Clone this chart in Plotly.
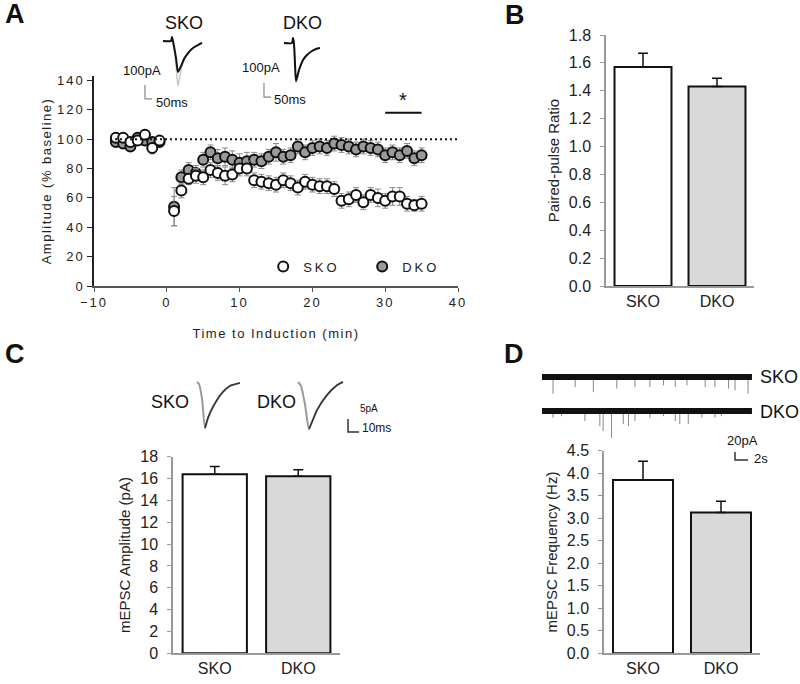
import plotly.graph_objects as go

W, H = 800, 684
FONT = "Arial, Liberation Sans, sans-serif"

# ---------------- Panel A data (LTD time course) ----------------
time_min = [-7, -6, -5, -4, -3, -2, -1,
            1, 2, 3, 4, 5, 6, 7, 8, 9, 10, 11, 12, 13, 14, 15, 16, 17, 18,
            19, 20, 21, 22, 23, 24, 25, 26, 27, 28, 29, 30, 31, 32, 33, 34, 35]
sko_amp = [101, 101, 98, 99, 103, 94, 99,
           51, 65, 73, 75, 74, 79, 77, 75, 76, 80, 80, 72, 71, 70, 69, 72, 70, 67,
           71, 69, 68, 68, 66, 58, 59, 62, 57, 62, 60, 58, 61, 61, 56, 55, 56]
sko_err = [3, 3, 3, 3, 3, 4, 3,
           10, 5, 4, 5, 5, 5, 5, 6, 5, 5, 5, 5, 5, 5, 5, 5, 5, 5,
           5, 5, 5, 5, 5, 5, 5, 5, 5, 5, 6, 5, 6, 6, 5, 4, 5]
dko_amp = [98, 97, 95, 101, 99, 98, 98,
           54, 74, 79, 77, 86, 91, 87, 88, 86, 84, 85, 86, 85, 88, 91, 88, 89, 95,
           91, 94, 95, 94, 97, 96, 95, 93, 95, 94, 93, 89, 91, 89, 92, 87, 89]
dko_err = [3, 3, 3, 3, 3, 3, 3,
           13, 5, 5, 5, 5, 5, 6, 6, 6, 6, 6, 5, 5, 5, 6, 5, 5, 5,
           5, 5, 5, 5, 5, 5, 5, 5, 5, 5, 5, 5, 5, 5, 5, 5, 5]

# ---------------- Bar panels ----------------
groups = ["SKO", "DKO"]
ppr_mean = [1.57, 1.43]
ppr_err = [0.10, 0.06]
mepsc_amp_mean = [16.4, 16.2]
mepsc_amp_err = [0.7, 0.6]
mepsc_freq_mean = [3.85, 3.13]
mepsc_freq_err = [0.42, 0.25]
bar_colors = ["#ffffff", "#d9d9d9"]

# ---------------- Example traces (hand-read) ----------------
# Panel A evoked EPSCs (ms, pA)
a_sko_t = [0, 57, 64, 71, 93, 107, 129, 150, 179, 214, 250, 279]
a_sko_after = [0, 0, 29, 0, -121, -221, -179, -129, -86, -50, -29, -14]
a_sko_before = [0, 0, 29, 0, -171, -321, -207, -136, -86, -50, -29, -14]
a_dko_t = [0, 57, 64, 71, 79, 86, 107, 136, 164, 200, 229, 257]
a_dko_after = [0, 0, 36, 0, -157, -271, -193, -121, -86, -57, -43, -36]
a_dko_before = [0, 0, 36, 0, -165, -285, -200, -125, -88, -57, -43, -36]
# Panel C averaged mEPSCs (ms, pA)
c_sko_t = [0, 1.8, 4.5, 7.3, 10, 14.5, 22.7, 30, 39]
c_sko_i = [0, -0.8, -6.2, -17.7, -13.8, -9.6, -4.2, -1.5, -0.4]
c_dko_t = [0, 2.7, 6.4, 10, 12.7, 17.3, 26.4, 35.5, 40.9]
c_dko_i = [0, -1.5, -8.8, -18.1, -15.4, -10.8, -5.0, -1.2, 0]
# Panel D recordings: duration (s) and event times (s) / amplitudes (pA)
d_duration = 32.3
d_sko_evt_t = [1.7, 5.1, 7.9, 11.5, 14.3, 16.6, 18.7, 20.5, 22.3, 25.1, 26.6, 28.7, 29.7, 31.7]
d_sko_evt_a = [42, 25, 38, 29, 25, 25, 21, 25, 21, 25, 25, 29, 33, 42]
d_dko_evt_t = [1.7, 3.0, 6.6, 8.9, 9.4, 10.7, 12.5, 13.3, 14.3, 16.6, 18.7, 20.5, 21.2, 22.5, 24.6, 26.6, 27.6]
d_dko_evt_a = [17, 13, 25, 38, 50, 67, 33, 38, 25, 17, 13, 25, 33, 33, 17, 17, 13]


def dx(a, b):
    return [a / W, b / W]


def dy(top, bottom):
    return [1 - bottom / H, 1 - top / H]


def P(x, y):
    return x / W, 1 - y / H


fig = go.Figure()

# ---- Panel A ----
fig.add_trace(go.Scatter(
    x=time_min, y=dko_amp, mode="markers", name="DKO",
    marker=dict(size=10, color="#9a9a9a", line=dict(color="#111", width=2)),
    error_y=dict(type="data", array=dko_err, color="#888", thickness=1, width=3),
    xaxis="x", yaxis="y"))
fig.add_trace(go.Scatter(
    x=time_min, y=sko_amp, mode="markers", name="SKO",
    marker=dict(size=10, color="#ffffff", line=dict(color="#111", width=2)),
    error_y=dict(type="data", array=sko_err, color="#888", thickness=1, width=3),
    xaxis="x", yaxis="y"))

# ---- Bar panels ----
for vals, errs, n in [(ppr_mean, ppr_err, 2), (mepsc_amp_mean, mepsc_amp_err, 3),
                      (mepsc_freq_mean, mepsc_freq_err, 4)]:
    fig.add_trace(go.Bar(
        x=groups, y=vals, width=0.77, showlegend=False,
        marker=dict(color=bar_colors, line=dict(color="#111", width=2)),
        error_y=dict(type="data", symmetric=False, array=errs, arrayminus=[0, 0],
                     color="#111", thickness=1.5, width=5),
        xaxis=f"x{n}", yaxis=f"y{n}"))

# ---- Trace insets ----
def line(x, y, ax, color, width):
    fig.add_trace(go.Scatter(x=x, y=y, mode="lines", showlegend=False, hoverinfo="skip",
                             line=dict(color=color, width=width, shape="spline", smoothing=0.6),
                             xaxis=f"x{ax}", yaxis=f"y{ax}"))

line(a_sko_t, a_sko_before, 5, "#c8c8c8", 1.5)
line(a_sko_t, a_sko_after, 5, "#111", 2)
line(a_dko_t, a_dko_before, 6, "#c8c8c8", 1.5)
line(a_dko_t, a_dko_after, 6, "#111", 2)
line(c_sko_t, c_sko_i, 7, "#9a9a9a", 2)
line(c_sko_t[3:], c_sko_i[3:], 7, "#333", 1.5)
line(c_dko_t, c_dko_i, 8, "#9a9a9a", 2)
line(c_dko_t[3:], c_dko_i[3:], 8, "#333", 1.5)

DKO_OFFSET = -85
for evt_t, evt_a, off in [(d_sko_evt_t, d_sko_evt_a, 0), (d_dko_evt_t, d_dko_evt_a, DKO_OFFSET)]:
    xs, ys = [], []
    for t, a in zip(evt_t, evt_a):
        xs += [t, t, None]
        ys += [off, off - a, None]
    fig.add_trace(go.Scatter(x=xs, y=ys, mode="lines", showlegend=False, hoverinfo="skip",
                             line=dict(color="#888", width=1), xaxis="x9", yaxis="y9"))
    fig.add_trace(go.Scatter(x=[0, d_duration], y=[off, off], mode="lines", showlegend=False,
                             hoverinfo="skip", line=dict(color="#111", width=6),
                             xaxis="x9", yaxis="y9"))

# ---------------- Layout ----------------
axis_common = dict(showgrid=False, zeroline=False, automargin=False,
                   tickfont=dict(family=FONT, size=16, color="#222"))
bar_y = dict(axis_common, showline=True, linecolor="#999", linewidth=1.5,
             ticks="outside", ticklen=4, tickcolor="#999", ticklabelstandoff=6,
             title_font=dict(family=FONT, size=15, color="#222"), title_standoff=6)
bar_x = dict(axis_common, showline=True, linecolor="#999", linewidth=1.5, ticks="",
             tickfont=dict(family=FONT, size=16, color="#222"))

layout = dict(
    width=W, height=H, margin=dict(l=0, r=0, t=0, b=0),
    paper_bgcolor="white", plot_bgcolor="rgba(0,0,0,0)", barmode="group",
    font=dict(family=FONT, color="#222"),
    showlegend=True,
    legend=dict(orientation="h", x=0.329, y=1 - 266.5 / H, xanchor="left", yanchor="middle",
                entrywidth=54, entrywidthmode="pixels", bgcolor="rgba(0,0,0,0)",
                font=dict(family=FONT, size=13, color="#222"), traceorder="reversed"),
    xaxis=dict(axis_common, domain=dx(94, 458), range=[-10, 40], dtick=10,
               showline=True, linecolor="#555", linewidth=1.5, ticks="outside", ticklen=4,
               tickcolor="#555", anchor="y",
               tickfont=dict(family=FONT, size=13, color="#222"),
               title=dict(text="Time to Induction (min)", standoff=20,
                          font=dict(family=FONT, size=13, color="#222"))),
    yaxis=dict(axis_common, domain=dy(76, 286), range=[0, 143], tickvals=list(range(0, 141, 20)),
               showline=True, linecolor="#222", linewidth=1.5, ticks="outside", ticklen=5,
               tickcolor="#222", anchor="x",
               tickfont=dict(family=FONT, size=13, color="#222"),
               title=dict(text="Amplitude (% baseline)", standoff=8,
                          font=dict(family=FONT, size=13, color="#222"))),
    xaxis2=dict(bar_x, domain=dx(606, 754), anchor="y2"),
    yaxis2=dict(bar_y, domain=dy(35, 286), range=[0, 1.8], tickvals=[0, 0.2, 0.4, 0.6, 0.8, 1.0, 1.2, 1.4, 1.6, 1.8],
                tickformat=".1f", anchor="x2", title_text="Paired-pulse Ratio"),
    xaxis3=dict(bar_x, domain=dx(173, 340), anchor="y3"),
    yaxis3=dict(bar_y, domain=dy(456.7, 653.3), range=[0, 18], tickvals=list(range(0, 19, 2)), anchor="x3",
                title_text="mEPSC Amplitude (pA)"),
    xaxis4=dict(bar_x, domain=dx(604, 760), anchor="y4"),
    yaxis4=dict(bar_y, domain=dy(450.8, 653.3), range=[0, 4.5],
                tickvals=[0, 0.5, 1.0, 1.5, 2.0, 2.5, 3.0, 3.5, 4.0, 4.5], tickformat=".1f",
                anchor="x4", title_text="mEPSC Frequency (Hz)"),
)


def inset(n, box, origin, scale):
    left, right, top, bottom = box
    ox, oy = origin
    sx, sy = scale
    layout[f"xaxis{n}"] = dict(domain=dx(left, right), range=[(left - ox) / sx, (right - ox) / sx],
                               visible=False, anchor=f"y{n}", fixedrange=True)
    layout[f"yaxis{n}"] = dict(domain=dy(top, bottom), range=[(oy - bottom) / sy, (oy - top) / sy],
                               visible=False, anchor=f"x{n}", fixedrange=True)


inset(5, (118, 212, 26, 112), (163, 41), (0.14, 0.14))
inset(6, (238, 326, 26, 112), (284, 43), (0.14, 0.14))
inset(7, (190, 250, 372, 440), (197, 382), (1.1, 2.6))
inset(8, (290, 368, 372, 440), (298, 382), (1.1, 2.6))
inset(9, (535, 760, 362, 466), (542, 377), (6.5, 0.4))

fig.update_layout(**layout)

shapes = []
# baseline dotted line & significance bar (panel A)
shapes.append(dict(type="line", xref="x", yref="y", x0=-7.8, x1=40, y0=100, y1=100,
                   line=dict(color="#111", width=2, dash="2px,3px")))
shapes.append(dict(type="line", xref="x", yref="y", x0=30, x1=35, y0=118, y1=118,
                   line=dict(color="#111", width=2)))


def scalebar(n, cx, cy, lx, ly, color="#888", w=1.2):
    shapes.append(dict(type="path", xref=f"x{n}", yref=f"y{n}",
                       path=f"M {cx},{cy + ly} L {cx},{cy} L {cx + lx},{cy}",
                       line=dict(color=color, width=w)))


scalebar(5, -128.6, -414, 50, 100)
scalebar(6, -143, -386, 50, 100)
scalebar(8, 45.5, -19.2, 10, 5, color="#333", w=1.5)
scalebar(9, 29.7, -207.5, 2, 20, color="#333", w=1.5)
fig.update_layout(shapes=shapes)

ann = []


def text(x, y, s, size, xanchor="center", bold=False, color="#111"):
    px, py = P(x, y)
    ann.append(dict(x=px, y=py, xref="paper", yref="paper", text=f"<b>{s}</b>" if bold else s,
                    showarrow=False, xanchor=xanchor, yanchor="middle",
                    font=dict(family=FONT, size=size, color=color)))


# panel letters
text(3, 14, "A", 27, "left", True)
text(503, 15, "B", 27, "left", True)
text(3, 354, "C", 27, "left", True)
text(502, 354, "D", 27, "left", True)
# asterisk
ann.append(dict(x=32.5, y=118, xref="x", yref="y", text="*", showarrow=False, yanchor="bottom",
                font=dict(family=FONT, size=20, color="#111")))
# panel A inset labels
text(184, 23, "SKO", 18)
text(302, 23, "DKO", 18)
text(163, 70, "100pA", 13, "right")
text(154, 102, "50ms", 13, "left")
text(282, 67, "100pA", 13, "right")
text(272, 99, "50ms", 13, "left")
# panel C inset labels
text(170, 402, "SKO", 18)
text(276, 402, "DKO", 18)
text(358, 408, "5pA", 10, "left")
text(360, 428, "10ms", 12, "left")
# panel D trace labels
text(758, 377, "SKO", 18, "left")
text(758, 412, "DKO", 18, "left")
text(742, 440, "20pA", 13)
text(752, 458, "2s", 13, "left")
fig.update_layout(annotations=ann)

post = """
document.body.style.margin = '0px';
document.body.style.overflow = 'hidden';
(function(){
  var gd = document.getElementById('{plot_id}');
  function spacing(){
    gd.querySelectorAll('.subplot.xy .xaxislayer-above text, .subplot.xy .yaxislayer-above text')
      .forEach(function(t){ t.style.letterSpacing = '2px'; });
    gd.querySelectorAll('.g-xtitle text, .g-ytitle text')
      .forEach(function(t){ t.style.letterSpacing = '1.5px'; });
    gd.querySelectorAll('.legend .legendtext')
      .forEach(function(t){ t.style.letterSpacing = '3px'; });
  }
  spacing();
  if (gd.on) { gd.on('plotly_afterplot', spacing); }
})();
"""
fig.write_html("out.html", post_script=post, config={"displayModeBar": False})
